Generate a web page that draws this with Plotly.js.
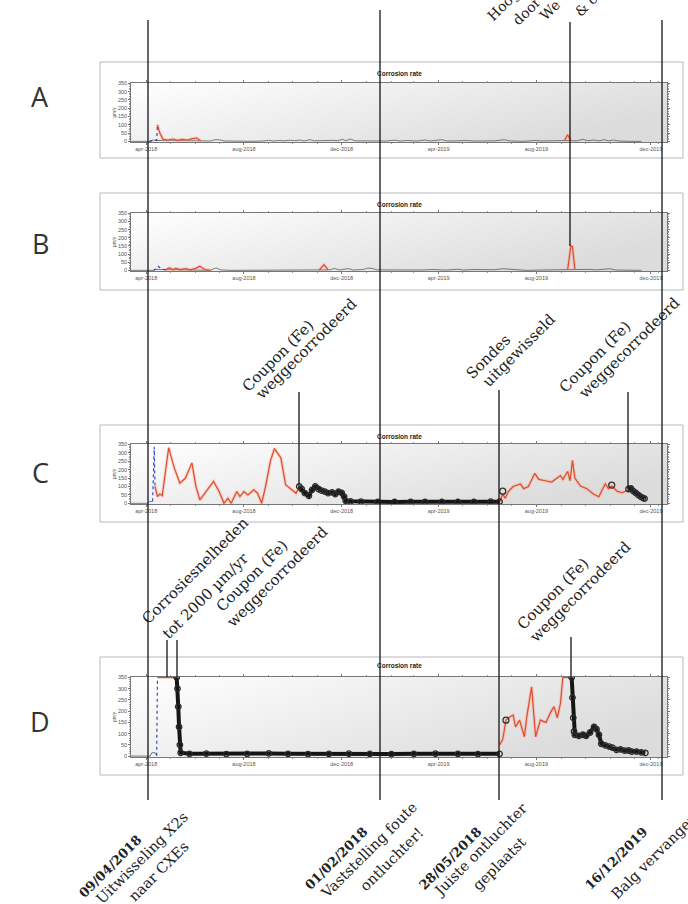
<!DOCTYPE html>
<html><head><meta charset="utf-8">
<script src="https://cdn.plot.ly/plotly-3.0.1.min.js"></script>
<style>html,body{margin:0;padding:0;background:#fff}#chart{width:688px;height:904px}</style>
</head><body><div id="chart"></div><script>
// ---------- tick labels ----------
const tickDates = ['2018-04-01','2018-08-01','2018-12-01','2019-04-01','2019-08-01','2019-12-22'];
const tickLabels = ['apr-2018','aug-2018','dec-2018','apr-2019','aug-2019','dec-2019'];
const yTicks = [0,50,100,150,200,250,300,350];

// ---------- panel A ----------
const aGray = [['2018-03-13',0],['2018-04-05',0],['2018-04-10',8],['2018-04-14',5],['2018-06-08',3],['2018-06-20',2],['2018-06-26',10],['2018-07-02',9],['2018-07-08',2],['2018-07-20',0],['2018-08-10',0],['2018-08-25',2],['2018-09-01',6],['2018-09-07',2],['2018-09-14',5],['2018-09-20',3],['2018-09-27',7],['2018-10-03',4],['2018-10-10',8],['2018-10-15',2],['2018-10-22',10],['2018-10-28',3],['2018-11-05',5],['2018-11-12',3],['2018-11-20',6],['2018-11-26',4],['2018-12-02',12],['2018-12-06',4],['2018-12-12',14],['2018-12-18',3],['2018-12-26',2],['2019-01-10',0],['2019-01-25',2],['2019-02-05',7],['2019-02-12',2],['2019-02-20',5],['2019-03-05',2],['2019-03-15',8],['2019-03-22',2],['2019-04-05',10],['2019-04-12',2],['2019-04-25',3],['2019-05-05',5],['2019-05-15',2],['2019-05-25',4],['2019-06-10',3],['2019-06-22',10],['2019-06-28',3],['2019-07-15',0],['2019-07-30',5],['2019-08-08',2],['2019-08-20',5],['2019-08-30',3],['2019-09-05',5],['2019-09-14',4],['2019-09-20',3],['2019-09-28',12],['2019-10-04',4],['2019-10-12',8],['2019-10-18',3],['2019-10-25',10],['2019-10-30',3],['2019-11-05',8],['2019-11-12',2],['2019-11-25',0],['2019-12-10',0]];
const aBlue = [['2018-04-05',0],['2018-04-12',8],['2018-04-14',5],['2018-04-15',100]];
const aRed = [['2018-04-15',100],['2018-04-18',50],['2018-04-22',12],['2018-04-28',8],['2018-05-04',14],['2018-05-10',6],['2018-05-16',12],['2018-05-22',8],['2018-05-28',15],['2018-06-03',20],['2018-06-08',3],['2018-06-09',null],['2019-09-05',5],['2019-09-09',40],['2019-09-13',4]];

// ---------- panel B ----------
const bGray = [['2018-03-13',0],['2018-04-10',0],['2018-04-12',5],['2018-06-20',0],['2018-06-27',15],['2018-07-03',3],['2018-07-15',0],['2018-08-15',0],['2018-09-10',2],['2018-09-25',3],['2018-10-10',2],['2018-10-25',4],['2018-11-02',2],['2018-11-16',3],['2018-11-22',12],['2018-11-28',2],['2018-12-05',8],['2018-12-10',10],['2018-12-15',2],['2018-12-28',5],['2019-01-02',14],['2019-01-08',12],['2019-01-14',3],['2019-02-01',2],['2019-02-15',3],['2019-03-01',5],['2019-03-10',2],['2019-03-25',5],['2019-04-10',2],['2019-04-25',7],['2019-05-02',2],['2019-05-15',5],['2019-05-25',3],['2019-06-10',4],['2019-06-20',10],['2019-06-26',8],['2019-07-02',2],['2019-07-20',0],['2019-08-05',2],['2019-08-20',3],['2019-09-05',5],['2019-09-22',4],['2019-10-05',6],['2019-10-15',3],['2019-10-25',5],['2019-11-01',10],['2019-11-08',2],['2019-11-25',0],['2019-12-10',0]];
const bBlue = [['2018-04-10',0],['2018-04-13',8],['2018-04-16',25],['2018-04-20',8],['2018-04-25',3]];
const bRed = [['2018-04-25',3],['2018-04-30',15],['2018-05-04',5],['2018-05-08',12],['2018-05-14',4],['2018-05-20',10],['2018-05-26',3],['2018-06-02',12],['2018-06-07',25],['2018-06-13',5],['2018-06-20',0],['2018-06-21',null],['2018-11-03',2],['2018-11-09',35],['2018-11-14',3],['2018-11-15',null],['2019-09-09',5],['2019-09-13',150],['2019-09-15',145],['2019-09-18',5]];

// ---------- panel C ----------
const cGray = [['2018-03-13',0],['2018-04-03',0],['2018-04-05',10],['2018-04-09',12]];
const cBlue = [['2018-04-09',12],['2018-04-11',335],['2018-04-12',100]];
const cRed = [['2018-04-12',100],['2018-04-15',40],['2018-04-18',55],['2018-04-21',45],['2018-04-29',330],['2018-05-06',210],['2018-05-13',120],['2018-05-20',150],['2018-05-28',240],['2018-06-02',100],['2018-06-07',20],['2018-06-15',70],['2018-06-24',130],['2018-07-01',70],['2018-07-07',0],['2018-07-12',30],['2018-07-16',0],['2018-07-23',70],['2018-07-27',40],['2018-08-01',70],['2018-08-06',50],['2018-08-13',80],['2018-08-18',60],['2018-08-23',0],['2018-08-28',100],['2018-09-03',250],['2018-09-08',325],['2018-09-13',290],['2018-09-16',270],['2018-09-22',110],['2018-09-30',80],['2018-10-05',60],['2018-10-09',100],['2018-10-10',null],['2019-06-16',8],['2019-06-20',55],['2019-06-23',30],['2019-06-27',70],['2019-07-03',100],['2019-07-12',115],['2019-07-16',87],['2019-07-22',100],['2019-07-30',178],['2019-08-04',142],['2019-08-12',134],['2019-08-20',126],['2019-08-31',165],['2019-09-03',142],['2019-09-09',189],['2019-09-12',134],['2019-09-15',255],['2019-09-18',150],['2019-09-25',102],['2019-10-03',87],['2019-10-11',55],['2019-10-18',39],['2019-10-22',79],['2019-10-26',115],['2019-10-30',87],['2019-11-03',102],['2019-11-10',71],['2019-11-16',63],['2019-11-24',80]];
const cBlack = [['2018-10-09',100],['2018-10-12',85],['2018-10-16',60],['2018-10-21',45],['2018-10-25',80],['2018-10-29',100],['2018-11-02',85],['2018-11-06',75],['2018-11-10',70],['2018-11-14',60],['2018-11-19',65],['2018-11-23',55],['2018-11-27',70],['2018-12-01',62],['2018-12-04',40],['2018-12-06',15],['2018-12-12',12],['2018-12-25',10],['2019-01-15',9],['2019-02-05',8],['2019-02-25',9],['2019-03-15',8],['2019-04-05',9],['2019-04-25',8],['2019-05-15',9],['2019-06-05',10],['2019-06-16',10],['2019-06-17',null],['2019-11-24',85],['2019-11-27',88],['2019-11-30',72],['2019-12-03',62],['2019-12-06',50],['2019-12-09',40],['2019-12-12',32],['2019-12-14',28]];
const cMarks = [['2019-06-20',72],['2019-11-03',108]];

// ---------- panel D ----------
const dGray = [['2018-03-13',0],['2018-04-06',0],['2018-04-08',15],['2018-04-12',15],['2018-04-14',2]];
const dBlue = [['2018-04-14',2],['2018-04-15',350]];
const dRed = [['2018-04-15',350],['2018-05-09',350],['2018-05-10',null],['2019-06-16',50],['2019-06-20',75],['2019-06-24',160],['2019-06-29',175],['2019-07-03',182],['2019-07-06',130],['2019-07-11',160],['2019-07-17',86],['2019-07-20',175],['2019-07-26',308],['2019-07-31',86],['2019-08-06',160],['2019-08-13',150],['2019-08-18',190],['2019-08-23',220],['2019-08-27',170],['2019-08-31',234],['2019-09-03',350],['2019-09-14',350]];
const dBlack = [['2018-05-09',350],['2018-05-10',300],['2018-05-11',220],['2018-05-12',130],['2018-05-13',50],['2018-05-14',15],['2018-05-25',10],['2018-06-15',11],['2018-07-10',9],['2018-08-05',10],['2018-09-01',12],['2018-09-25',10],['2018-10-20',9],['2018-11-15',10],['2018-12-10',11],['2019-01-05',10],['2019-02-01',9],['2019-03-01',10],['2019-03-28',11],['2019-04-25',10],['2019-05-20',9],['2019-06-16',10],['2019-06-17',null],['2019-09-14',350],['2019-09-15',260],['2019-09-16',170],['2019-09-17',110],['2019-09-18',95],['2019-09-23',90],['2019-09-28',95],['2019-10-02',90],['2019-10-07',105],['2019-10-12',130],['2019-10-15',120],['2019-10-18',95],['2019-10-21',55],['2019-10-26',48],['2019-10-31',42],['2019-11-04',38],['2019-11-09',28],['2019-11-14',30],['2019-11-19',24],['2019-11-24',25],['2019-11-28',20],['2019-12-04',20],['2019-12-10',17],['2019-12-15',14]];
const dMarks = [['2019-06-24',160]];

// ---------- figure geometry (pixels) ----------
const W = 688, H = 904;
const px = v => v / W, py = v => 1 - v / H;
const plotX = [131, 667], boxX = [100, 683];
const panels = [
  {box: [62, 158], plot: [83, 142], title: 73, letter: 'A', ly: 97},
  {box: [193, 290], plot: [213, 271], title: 204, letter: 'B', ly: 243},
  {box: [425, 522], plot: [444, 504], title: 436, letter: 'C', ly: 473},
  {box: [657, 775], plot: [677, 757], title: 665, letter: 'D', ly: 721}
];

const ST = {
  gray: {mode: 'lines', line: {color: '#5a5a5a', width: 0.8}},
  halo: {mode: 'lines', line: {color: 'rgba(245,150,120,0.35)', width: 3.2}},
  red: {mode: 'lines', line: {color: '#e24a2c', width: 1.2}},
  blue: {mode: 'lines', line: {color: '#2a3cc8', width: 1.1, dash: 'dot'}},
  black: {mode: 'lines+markers', line: {color: '#151515', width: 4},
          marker: {symbol: 'circle-open', size: 5.5, color: '#2a2a2a', line: {width: 1.3}}},
  marks: {mode: 'markers', marker: {symbol: 'circle-open', size: 6, color: '#333', line: {width: 1.3}}}
};

const series = [
  [[aGray, 'gray'], [aRed, 'halo'], [aRed, 'red'], [aBlue, 'blue']],
  [[bGray, 'gray'], [bRed, 'halo'], [bRed, 'red'], [bBlue, 'blue']],
  [[cGray, 'gray'], [cRed, 'halo'], [cRed, 'red'], [cBlue, 'blue'], [cBlack, 'black'], [cMarks, 'marks']],
  [[dGray, 'gray'], [dRed, 'halo'], [dRed, 'red'], [dBlue, 'blue'], [dBlack, 'black'], [dMarks, 'marks']]
];

const traces = [];
series.forEach((list, i) => {
  const sfx = i === 0 ? '' : String(i + 1);
  list.forEach(([pairs, st]) => {
    const t = JSON.parse(JSON.stringify(ST[st]));
    t.type = 'scatter';
    t.x = pairs.map(p => p[0]);
    t.y = pairs.map(p => p[1]);
    t.xaxis = 'x' + sfx; t.yaxis = 'y' + sfx;
    t.hoverinfo = 'skip';
    t.cliponaxis = true;
    traces.push(t);
  });
});

const tickFont = {family: 'Liberation Sans, Arial, sans-serif', size: 5.5, color: '#555'};
const layout = {
  width: W, height: H, margin: {l: 0, r: 0, t: 0, b: 0},
  paper_bgcolor: '#fff', plot_bgcolor: 'rgba(0,0,0,0)', showlegend: false,
  shapes: [], annotations: [], images: []
};

const grad = 'data:image/svg+xml;charset=utf-8,' + encodeURIComponent(
  "<svg xmlns='http://www.w3.org/2000/svg' width='200' height='40' viewBox='0 0 200 40' preserveAspectRatio='none'>" +
  "<defs><linearGradient id='g' x1='0' y1='0' x2='1' y2='0.5'><stop offset='0' stop-color='#ffffff'/>" +
  "<stop offset='1' stop-color='#dcdcdc'/></linearGradient></defs><rect width='200' height='40' fill='url(#g)'/></svg>");

panels.forEach((p, i) => {
  const sfx = i === 0 ? '' : String(i + 1);
  layout['xaxis' + sfx] = {
    domain: [px(plotX[0]), px(plotX[1])], anchor: 'y' + sfx, type: 'date',
    range: ['2018-03-13', '2020-01-11'], tickmode: 'array', tickvals: tickDates, ticktext: tickLabels,
    tickfont: tickFont, showline: true, linecolor: '#555', linewidth: 0.8, mirror: 'ticks',
    ticks: 'outside', ticklen: 2, tickcolor: '#777', showgrid: false, zeroline: false,
    minor: {ticks: 'outside', ticklen: 1.2, tickcolor: '#999', dtick: 'M1', showgrid: false}
  };
  layout['yaxis' + sfx] = {
    domain: [py(p.plot[1]), py(p.plot[0])], anchor: 'x' + sfx, range: [-4, 352],
    tickmode: 'array', tickvals: yTicks, tickfont: tickFont, showline: true, linecolor: '#555',
    linewidth: 0.8, mirror: 'ticks', ticks: 'outside', ticklen: 2, tickcolor: '#777',
    showgrid: false, zeroline: false,
    minor: {ticks: 'outside', ticklen: 1.2, tickcolor: '#999', dtick: 10, showgrid: false},
    title: {text: 'µm/y', font: {family: 'Liberation Sans, Arial', size: 4.5, color: '#444'}, standoff: 1}
  };
  layout.images.push({source: grad, xref: 'paper', yref: 'paper', x: px(plotX[0]), y: py(p.plot[0]),
    sizex: px(plotX[1]) - px(plotX[0]), sizey: (p.plot[1] - p.plot[0]) / H,
    xanchor: 'left', yanchor: 'top', sizing: 'stretch', layer: 'below'});
  layout.shapes.push({type: 'rect', xref: 'paper', yref: 'paper', x0: px(boxX[0]), x1: px(boxX[1]),
    y0: py(p.box[1]), y1: py(p.box[0]), line: {color: '#b8b8b8', width: 1}, fillcolor: 'rgba(0,0,0,0)', layer: 'below'});
  layout.annotations.push({text: '<b>Corrosion rate</b>', xref: 'paper', yref: 'paper',
    x: px((plotX[0] + plotX[1]) / 2), y: py(p.title), showarrow: false, xanchor: 'center', yanchor: 'middle',
    font: {family: 'Liberation Sans, Arial', size: 6.5, color: '#222'}});
  layout.annotations.push({text: p.letter, xref: 'paper', yref: 'paper', x: px(40), y: py(p.ly),
    showarrow: false, xanchor: 'center', yanchor: 'middle',
    font: {family: 'Open Sans, sans-serif', size: 27, color: '#333'}});
});

// vertical marker lines [x, yTop, yBottom] in pixels
const vlines = [[148, 20, 800], [380, 10, 800], [499, 390, 800], [570, 22, 246], [662, 20, 800],
  [299, 392, 487], [628, 392, 489], [167, 640, 677], [177, 640, 677], [571, 637, 677]];
vlines.forEach(v => layout.shapes.push({type: 'line', xref: 'paper', yref: 'paper',
  x0: px(v[0]), x1: px(v[0]), y0: py(v[1]), y1: py(v[2]), line: {color: '#151515', width: 1.3}, layer: 'above'}));

// rotated note lines: [text, bold, font size, baseline start x, baseline start y]
const noteLines = [
  ['Coupon (Fe)', false, 15, 248, 392], ['weggecorrodeerd', false, 15, 262, 400],
  ['Sondes', false, 15, 472, 380], ['uitgewisseld', false, 15, 489, 387],
  ['Coupon (Fe)', false, 15, 565, 393], ['weggecorrodeerd', false, 15, 585, 399],
  ['Corrosiesnelheden', false, 15, 148, 625], ['tot 2000 µm/yr', false, 15, 169, 640],
  ['Coupon (Fe)', false, 15, 222, 612], ['weggecorrodeerd', false, 15, 233, 628],
  ['Coupon (Fe)', false, 15, 523, 630], ['weggecorrodeerd', false, 15, 536, 643],
  ['09/04/2018', true, 13, 84, 898], ['Uitwisseling X2s', false, 14.5, 102, 905], ['naar CXEs', false, 14.5, 135, 902],
  ['01/02/2018', true, 13, 310, 890], ['Vaststelling foute', false, 14.5, 327, 898], ['ontluchter!', false, 14.5, 366, 891],
  ['28/05/2018', true, 13, 424, 890], ['Juiste ontluchter', false, 14.5, 440, 897], ['geplaatst', false, 14.5, 478, 891],
  ['16/12/2019', true, 13, 590, 890], ['Balg vervangen', false, 14.5, 617, 900],
  ['Hoogste corrosiesnelheid', false, 14, 493, 21], ['door foute ontluchter', false, 14, 518, 26],
  ['We vervangen de probe', false, 14, 546, 21], ['& coupon', false, 14, 580, 17]
];
const ctx = document.createElement('canvas').getContext('2d');
const C45 = Math.SQRT1_2;
noteLines.forEach(([txt, bold, size, sx, sy]) => {
  ctx.font = (bold ? 'bold ' : '') + size + 'px "DejaVu Serif"';
  const w = ctx.measureText(txt).width;
  const u = 0.32 * size;
  const cx = sx + (w / 2) * C45 - u * C45;
  const cy = sy - (w / 2) * C45 - u * C45;
  layout.annotations.push({text: bold ? '<b>' + txt + '</b>' : txt, xref: 'paper', yref: 'paper',
    x: px(cx), y: py(cy), textangle: -45, showarrow: false, xanchor: 'center', yanchor: 'middle',
    font: {family: 'DejaVu Serif, serif', size: size, color: '#222'}});
});

Plotly.newPlot('chart', traces, layout, {staticPlot: true, displayModeBar: false});
</script></body></html>
